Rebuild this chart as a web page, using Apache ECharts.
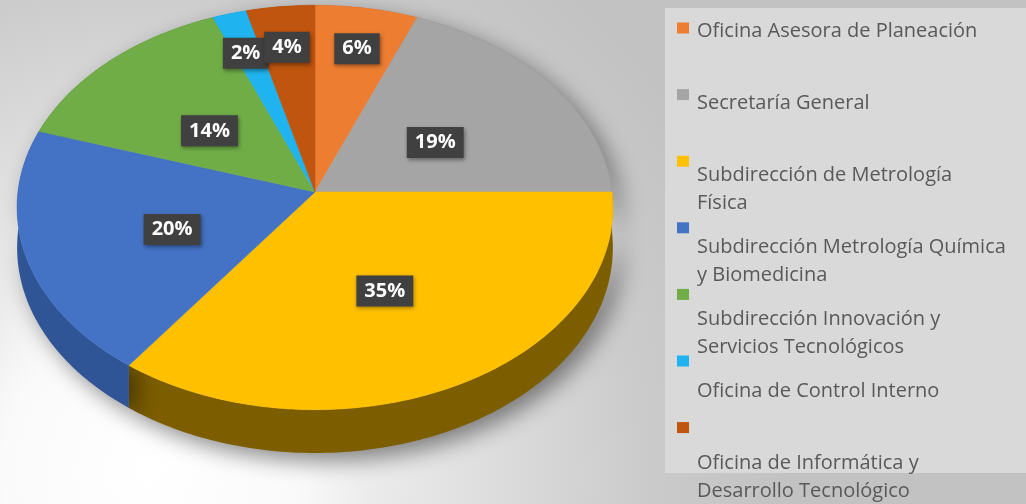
<!DOCTYPE html>
<html>
<head>
<meta charset="utf-8">
<script src="https://cdn.jsdelivr.net/npm/echarts@6/dist/echarts.min.js"></script>
<style>
  html, body { margin: 0; padding: 0; }
  #chart { width: 1026px; height: 504px; }
</style>
</head>
<body>
<div id="chart"></div>
<script>
// categorías en sentido horario desde las 12
const categories = [
  'Oficina Asesora de Planeación',
  'Secretaría General',
  'Subdirección de Metrología Física',
  'Subdirección Metrología Química y Biomedicina',
  'Subdirección Innovación y Servicios Tecnológicos',
  'Oficina de Control Interno',
  'Oficina de Informática y Desarrollo Tecnológico'
]
const values = [6, 19, 35, 20, 14, 2, 4]
// texto de la leyenda, cortado como en el original
const legendLabels = [
  'Oficina Asesora de Planeación\n ',
  'Secretaría General\n ',
  'Subdirección de Metrología\nFísica',
  'Subdirección Metrología Química\ny Biomedicina',
  'Subdirección Innovación y\nServicios Tecnológicos',
  'Oficina de Control Interno\n ',
  'Oficina de Informática y\nDesarrollo Tecnológico'
]

const colors = ['#ed7d31', '#a5a5a5', '#ffc000', '#4472c4', '#70ad47', '#1fb4f0', '#c0550f']
const wallColors = ['#9e5420', '#6e6e6e', '#7c5e00', '#2f5597', '#4b7530', '#0e7aa6', '#803a0a']

// geometría del "pastel 3D"
const CX = 315, CY = 192, RX = 297, RY = 201, PERSP = 0.0765, DEPTH = 40

const total = values.reduce((a, b) => a + b, 0)
const starts = values.map((v, i) => values.slice(0, i).reduce((a, b) => a + b, 0))

// ángulo en radianes, horario desde las 12
const project = (r, t, dy) => {
  const u = r * Math.sin(t)
  const v = r * Math.cos(t)
  const s = 1 / (1 + PERSP * v)
  return [CX + RX * u * s, CY - RY * v * s + dy * s]
}

const renderSlice = i => (params, api) => {
  const v = api.value(0)
  const a0 = starts[i] / total * 2 * Math.PI
  const a1 = a0 + v / total * 2 * Math.PI
  const steps = Math.max(2, Math.ceil((a1 - a0) / (Math.PI / 180)))
  const rim = []
  const base = []
  for (let k = 0; k <= steps; k++) {
    const t = a0 + (a1 - a0) * k / steps
    rim.push(project(1, t, 0))
    base.push(project(1, t, DEPTH))
  }
  const color = api.visual('color')
  const lp = project(v / total < 0.1 ? 0.8 : 0.5, (a0 + a1) / 2, 6)
  return {
    type: 'group',
    children: [
      {
        type: 'polygon',
        z2: 1,
        shape: { points: rim.concat(base.slice().reverse()) },
        style: {
          fill: wallColors[i],
          shadowBlur: 22,
          shadowOffsetX: 8,
          shadowOffsetY: 8,
          shadowColor: 'rgba(0,0,0,0.45)'
        }
      },
      {
        type: 'polygon',
        z2: 10,
        shape: { points: [project(0, 0, 0)].concat(rim) },
        style: { fill: color, stroke: color, lineWidth: 0.6 }
      },
      {
        type: 'text',
        z2: 20,
        x: lp[0],
        y: lp[1],
        style: {
          text: Math.round(v / total * 100) + '%',
          fill: '#ffffff',
          fontFamily: 'Open Sans',
          fontWeight: 'bold',
          fontSize: 20,
          align: 'center',
          verticalAlign: 'middle',
          backgroundColor: '#404040',
          padding: [6, 8, 5, 8],
          shadowBlur: 4,
          shadowOffsetX: 1,
          shadowOffsetY: 2,
          shadowColor: 'rgba(0,0,0,0.4)'
        }
      }
    ]
  }
}

const chart = echarts.init(document.getElementById('chart'))

chart.setOption({
  backgroundColor: {
    type: 'radial',
    x: 0.146,
    y: 0.933,
    r: 1.27,
    colorStops: [
      { offset: 0, color: '#ffffff' },
      { offset: 0.23, color: '#fafafa' },
      { offset: 0.34, color: '#ececec' },
      { offset: 0.77, color: '#cbcbcb' },
      { offset: 1, color: '#c2c2c2' }
    ]
  },
  animation: false,
  graphic: [
    {
      type: 'rect',
      left: 665,
      top: 8,
      shape: { width: 361, height: 465 },
      style: { fill: '#d9d9d9' }
    }
  ],
  legend: [
    {
      // marcadores
      orient: 'vertical',
      left: 677,
      top: 22.5,
      height: 600,
      padding: 0,
      icon: 'rect',
      itemWidth: 12,
      itemHeight: 11,
      itemGap: 55.6,
      data: categories,
      formatter: () => '',
      textStyle: { fontSize: 8, lineHeight: 8 }
    },
    {
      // textos
      orient: 'vertical',
      left: 692,
      top: 17.5,
      height: 600,
      padding: 0,
      icon: 'none',
      itemWidth: 0,
      itemHeight: 14,
      itemGap: 16,
      data: categories,
      formatter: name => legendLabels[categories.indexOf(name)],
      textStyle: {
        color: '#595959',
        fontFamily: 'Open Sans',
        fontSize: 20,
        lineHeight: 28
      }
    }
  ],
  series: categories.map((name, i) => ({
    name,
    type: 'custom',
    coordinateSystem: 'none',
    itemStyle: { color: colors[i] },
    data: [[values[i]]],
    renderItem: renderSlice(i)
  }))
})

window.addEventListener('resize', () => chart.resize())
</script>
</body>
</html>
